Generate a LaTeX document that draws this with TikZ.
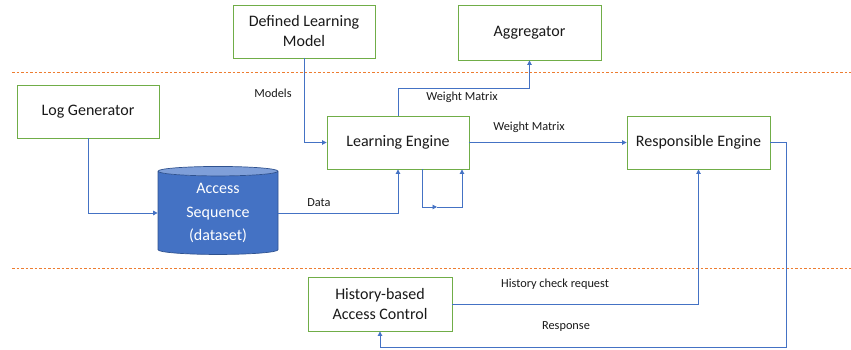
\documentclass[tikz,border=0pt]{standalone}
\usepackage{fontspec}
\setmainfont{Carlito}
\usetikzlibrary{shapes.geometric,arrows.meta}
\definecolor{boxgreen}{HTML}{70AD47}
\definecolor{linkblue}{HTML}{4472C4}
\definecolor{dbblue}{HTML}{4472C4}
\definecolor{dbtop}{HTML}{7F9FD9}
\definecolor{dbedge}{HTML}{2F528F}
\definecolor{sepline}{HTML}{ED7D31}

\begin{document}
\begin{tikzpicture}[x=1pt,y=-1pt]
\tikzset{block/.style={draw=boxgreen, line width=0.9pt, fill=white, minimum width=142pt, minimum height=53pt, align=center, font=\fontsize{16}{20}\selectfont, text=black!90},
  link/.style={draw=linkblue, line width=0.9pt, -{Triangle[length=4.5pt,width=4.5pt]}},
  lbl/.style={font=\fontsize{12.3}{14}\selectfont, text=black!90, inner sep=0pt},
  sep/.style={draw=sepline, line width=1pt, dash pattern=on 2.5pt off 2pt}}
\useasboundingbox (0,0) rectangle (851,350);
\draw[sep] (12,73) -- (851,73);
\draw[sep] (12,268) -- (851,268);
\node[block] (dlm) at (304,31.5) {Defined Learning\\Model};
\node[block, minimum width=143pt, minimum height=55pt] (agg) at (529.5,32.5) {Aggregator};
\node[block] (lg) at (88,111.5) {Log Generator};
\node[block] (le) at (398,142.5) {Learning Engine};
\node[block, minimum width=143pt] (re) at (698.5,142.5) {Responsible Engine};
\node[block, minimum width=144pt, minimum height=54pt] (hac) at (380,304) {History-based\\Access Control};
\node[cylinder, shape border rotate=90, aspect=0.15, draw=dbedge, line width=0.7pt,
  cylinder uses custom fill, cylinder body fill=dbblue, cylinder end fill=dbtop,
  minimum width=120pt, minimum height=88pt, inner sep=0pt, align=center,
  text=white, font=\fontsize{16}{23.5}\selectfont] (db) at (218,213) {Access\\Sequence\\(dataset)};
\coordinate (wmbend) at (398,88);
\coordinate (loopmid) at (437,207);
\coordinate (rescorner) at (786,347);
\draw[link] (lg.south) |- (db.west);
\draw[link] (db.east) -| (le.south);
\draw[link] (dlm.south) |- (le.west);
\draw[link] (le.north) -- (wmbend) -| (agg.south);
\draw[link] (le.east) -- (re.west);
\draw[link] ([xshift=24pt]le.south) |- (loopmid);
\draw[link] (loopmid) -| ([xshift=64pt]le.south);
\draw[link] (hac.east) -| (re.south);
\draw[link] (re.east) -| (rescorner) -| (hac.south);
\node[lbl] (models) at (273,93) {Models};
\node[lbl] (wmup) at (462,97) {Weight Matrix};
\node[lbl] (wmright) at (529,127) {Weight Matrix};
\node[lbl] (data) at (319,203) {Data};
\node[lbl] (hcr) at (555,284) {History check request};
\node[lbl] (resp) at (566,327) {Response};
\end{tikzpicture}
\end{document}
